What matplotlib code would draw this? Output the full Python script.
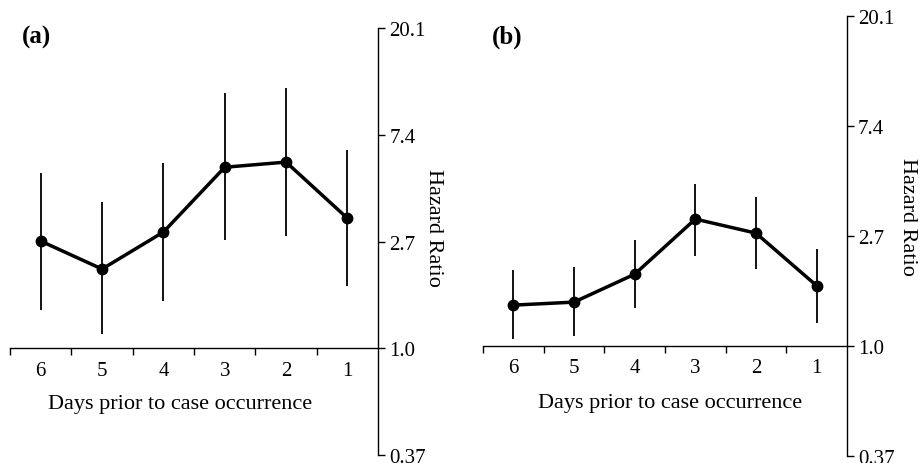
import matplotlib
matplotlib.use('Agg')
import matplotlib.pyplot as plt
import numpy as np
from matplotlib.ticker import FixedLocator, NullFormatter

plt.rcParams['font.family'] = ['Liberation Serif', 'DejaVu Serif']

# ── data ──────────────────────────────────────────────────────────────────────
days = ['6', '5', '4', '3', '2', '1']

hr_a = [2.73, 2.10, 2.97, 5.45, 5.72, 3.38]
lo_a = [1.43, 1.14, 1.55, 2.75, 2.86, 1.79]
hi_a = [5.16, 3.93, 5.66, 10.9, 11.5, 6.40]

hr_b = [1.45, 1.49, 1.92, 3.17, 2.79, 1.73]
lo_b = [1.07, 1.10, 1.41, 2.27, 2.01, 1.23]
hi_b = [2.00, 2.05, 2.62, 4.36, 3.88, 2.42]

yticks = [np.exp(-1), 1.0, np.exp(1), np.exp(2), np.exp(3)]
ytick_labels = ['0.37', '1.0', '2.7', '7.4', '20.1']

TICK_FS = 15
LABEL_FS = 16


def draw_panel(ax, hr, lo, hi, ylab_xy, xlab_xy):
    x = np.arange(len(days))
    hr = np.asarray(hr)
    err = [hr - np.asarray(lo), np.asarray(hi) - hr]
    ax.errorbar(x, hr, yerr=err, fmt='none', ecolor='black',
                elinewidth=1.3, capsize=0, zorder=2)
    ax.plot(x, hr, color='black', lw=2.5, marker='o', ms=7.5, zorder=3)

    ax.set_yscale('log')
    ax.set_ylim(yticks[0], yticks[-1])
    ax.set_xlim(-0.5, len(days) - 0.5)

    # spines
    ax.spines['left'].set_visible(False)
    ax.spines['top'].set_visible(False)
    ax.spines['bottom'].set_position(('data', 1.0))
    ax.spines['right'].set_linewidth(1.0)
    ax.spines['bottom'].set_linewidth(1.0)

    # y axis on the right
    ax.yaxis.tick_right()
    ax.yaxis.set_label_position('right')
    ax.yaxis.set_major_locator(FixedLocator(yticks))
    ax.yaxis.set_minor_locator(FixedLocator([]))
    ax.set_yticklabels(ytick_labels)
    ax.yaxis.set_minor_formatter(NullFormatter())
    ax.tick_params(axis='y', direction='out', length=5, width=1.0,
                   labelsize=TICK_FS, pad=3)
    ax.set_ylabel('Hazard Ratio', fontsize=LABEL_FS, rotation=270, va='center')
    ax.yaxis.set_label_coords(*ylab_xy)

    # x ticks at category boundaries, labels at centres
    ax.xaxis.set_major_locator(FixedLocator(np.arange(-0.5, len(days) - 0.5, 1.0)))
    ax.xaxis.set_major_formatter(NullFormatter())
    ax.set_xticks(x, labels=days, minor=True)
    ax.tick_params(axis='x', which='major', direction='out', length=5, width=1.0)
    ax.tick_params(axis='x', which='minor', length=0, labelsize=TICK_FS, pad=9)
    ax.set_xlabel('Days prior to case occurrence', fontsize=LABEL_FS, va='top')
    ax.xaxis.set_label_coords(*xlab_xy)

    ax.patch.set_alpha(0)


fig = plt.figure(figsize=(9.21, 4.64), dpi=100)
ax_a = fig.add_axes([0.0109, 0.0172, 0.3996, 0.9203])
ax_b = fig.add_axes([0.5244, 0.0151, 0.3952, 0.9483])

draw_panel(ax_a, hr_a, lo_a, hi_a, (1.15, 0.534), (0.462, 0.143))
draw_panel(ax_b, hr_b, lo_b, hi_b, (1.165, 0.545), (0.514, 0.143))

fig.text(0.024, 0.920, '(a)', fontsize=18, fontweight='bold', va='center')
fig.text(0.534, 0.920, '(b)', fontsize=18, fontweight='bold', va='center')

fig.savefig('out.png', dpi=100)
